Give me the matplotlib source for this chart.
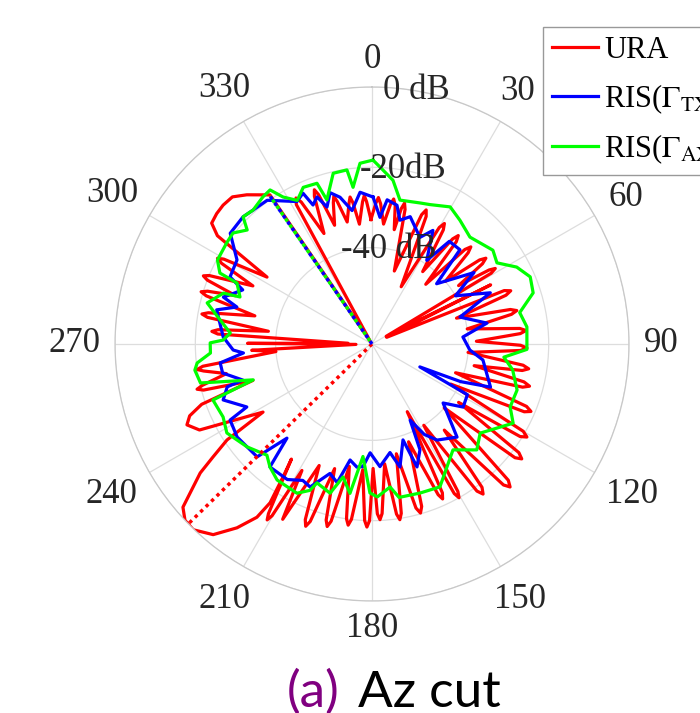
import numpy as np
import matplotlib.pyplot as plt

plt.rcParams['font.family'] = ['Liberation Serif', 'DejaVu Serif']
plt.rcParams['mathtext.fontset'] = 'stix'

# angles in degrees (clockwise from north), gains in dB
green_theta = [0.3, 2.6, 7.3, 11, 18.8, 22.6, 29.7, 35.4, 42.5, 52.2, 57, 62, 67, 72.4, 78, 83.7,
               92, 95.7, 100.4, 107.6, 114.5, 119.3, 129.5, 135.3, 142.6, 154.6, 162, 170, 172.8,
               178, 180.8, 184.6, 188.4, 192.3, 195.7, 201.6, 203, 206.7, 214.9, 219.7, 223.4,
               230.5, 238.5, 243.9, 250.6, 253.2, 257.2, 261.6, 263.8, 266.8, 270.4, 271.5, 274.4,
               279, 284, 288.9, 289.6, 294.3, 295, 298.5, 304.9, 308.6, 312.4, 314.6, 318.4, 323.4,
               326.5, 328.8, 332.5, 336.3, 341.1, 342.6, 347.2, 351.8, 353.1, 356.2, 360.3]
green_db = [-18.2, -19.9, -22.9, -27.5, -26.9, -26.4, -24.7, -26.2, -27.9, -25.9, -26.9, -23.2,
            -21.2, -21.9, -26.4, -25.2, -25.4, -31, -28.4, -26.1, -26.2, -23.7, -29.1, -26.9, -30.8,
            -24.6, -25, -25.2, -28.1, -25.9, -26.9, -35.9, -26.4, -30.1, -25.4, -26.8, -24.4, -22.4,
            -22.7, -24.2, -25.9, -23.7, -21.6, -22.7, -22, -33.1, -20.2, -19.4, -20.2, -23.7, -23.7,
            -26.9, -28.6, -25.7, -21.7, -24.9, -29.1, -27.1, -22.2, -20.2, -19.9, -19.7, -21.9,
            -18.9, -19.4, -18.4, -18, -21.2, -23.7, -21.4, -21.7, -26.4, -20.4, -20.2, -24.7,
            -18.9, -18.2]

blue_theta = [0.4, 3.6, 6, 10.2, 12.7, 16.7, 24.2, 28.2, 33.2, 37, 43, 47, 55, 60, 66.6, 73,
              79.7, 85.6, 93.5, 98.2, 110, 113, 115.6, 118, 124.7, 129.7, 137.6, 145.9, 150,
              153.4, 155.6, 159.9, 162.1, 167.2, 170.6, 176.3, 181, 184.2, 187, 190.7, 194.1, 198,
              203.4, 206.9, 212, 219.7, 222.1, 225.5, 235.4, 241.8, 243.3, 249.4, 253.5, 254.4,
              259, 262.9, 266, 267.5, 272.7, 282.4, 285.3, 287.5, 292.7, 295.3, 301.9, 308,
              314.6, 318.4, 323.9, 332.2, 335.4, 337, 339.5, 341.8, 344.5, 347.7, 351.5, 355.5,
              360.4]
blue_db = [-27.4, -32.4, -27.9, -28.9, -32.4, -30.9, -34.9, -31.9, -39.1, -32, -31.9, -42,
           -33, -40, -31.9, -41.1, -34.9, -41.3, -39.6, -36.1, -32.6, -40, -50.8, -37.1, -36.4,
           -41, -32.6, -35.1, -38, -42.8, -35.1, -31.4, -38.9, -32.6, -36.6, -33.4, -36.9, -33.4,
           -33.1, -34.6, -28.4, -30.1, -25.2, -25.9, -24.2, -24.2, -32.4, -23.9, -23.2, -23.9,
           -29.1, -24.4, -26.4, -30.6, -26.1, -25.9, -31.9, -29.4, -26.9, -24.4, -29.1, -25.2,
           -29.1, -24.9, -24.4, -19.2, -18.9, -19.4, -19.7, -23.9, -22.7, -26.4, -24.9, -28.1,
           -24.9, -26.6, -30.4, -26.1, -27.4]

red_theta = [-0.5, 1.5, 2.5, 3.5, 5.5, 7.5, 8.5, 9.5, 11, 12.2, 13, 13.8, 17, 21, 22, 23, 27,
             30, 31, 32, 35, 37.5, 38.5, 39.5, 42, 44.5, 45.5, 46.5, 49.5, 52, 53, 54, 56, 57.7,
             58.5, 59.3, 61.5, 63.5, 65.5, 68, 69, 70, 73, 76, 77, 78, 81, 84, 85, 86, 88.5,
             90.5, 91.5, 92.5, 95, 98, 99, 100, 102, 104, 105, 106, 109, 112, 113, 114, 117,
             120, 121, 122, 124, 126.5, 127.5, 128.5, 131.5, 135, 136, 137, 140, 142.5, 143.5,
             144.5, 147.5, 149.8, 150.5, 151.2, 152.5, 154.7, 155.5, 156.3, 159.5, 163, 164,
             165, 167.5, 170.2, 171, 171.8, 174, 176.6, 177.4, 178.2, 179.5, 180.8, 181.6,
             182.4, 184.2, 186.7, 187.5, 188.3, 190.5, 193, 193.8, 194.6, 196.7, 199.2, 200,
             200.8, 203.5, 207, 209, 210.2, 210.8, 211.4, 215, 213.8, 212.7, 213.6, 216.3,
             219.8, 223.9, 226.7, 229.2, 230.7, 233.1, 234.6, 236.5, 238, 243.5, 246.4, 248.5,
             250.5, 253, 254.7, 255.5, 256.3, 258.5, 260.9, 261.7, 262.5, 265.5, 267, 268.5,
             270.3, 271.8, 273.7, 274.5, 275.3, 277, 279.2, 280, 280.8, 283.5, 286.2, 287,
             287.8, 289.5, 291.2, 292, 292.8, 296, 298.2, 299, 299.8, 302.5, 305, 307, 310, 313,
             316.5, 320, 323, 325.6, 327.5, 331.5, 332.5, 333.5, 336.5, 338.7, 339.5, 340.3,
             342.5, 344.7, 345.5, 346.3, 348.5, 350.7, 351.5, 352.3, 354, 356.2, 357, 357.8,
             359.5]
red_db = [-33, -29, -27.5, -29, -34, -29, -27.5, -29, -35, -29.5, -28, -29.5, -45, -29.5, -28,
          -29.5, -48, -30.5, -29, -30.5, -42, -31, -29.5, -31, -44, -31, -29.5, -31, -40, -30,
          -28.5, -30, -38, -29.5, -28, -29.5, -60, -31, -60, -28.5, -27, -28.5, -42, -28.5, -27,
          -28.5, -40, -27, -25.5, -27, -38, -27, -25.4, -27, -40, -26, -24.5, -26, -38, -25,
          -23.4, -25, -42, -22.5, -21, -22.5, -42, -20.5, -19, -20.5, -38, -18.5, -17, -18.5,
          -40, -16, -14.5, -16, -36, -19, -17.5, -19, -40, -21.5, -20, -21.5, -45, -23, -21.6,
          -23, -38, -21.7, -20.2, -21.7, -36, -21.2, -19.7, -21.2, -34, -21.7, -20.2, -21.7,
          -33, -20, -18.4, -20, -32.6, -20, -18.5, -20, -33, -18.7, -17.2, -18.7, -31.6, -17.2,
          -15.7, -17.2, -31, -15, -28, -14.5, -13, -14.5, -29, -24.2, -17, -12.2, -7.2, -2.2,
          0.2, 0, -1.8, -5.5, -10.5, -15.4, -20.7, -32, -16, -13.7, -15.2, -19, -33, -20.5,
          -19, -20.5, -27, -21.5, -20, -21.5, -40, -34, -60, -33, -58, -25.5, -24, -25.5, -38,
          -22.5, -21, -22.5, -34, -21, -19.5, -21, -28, -20, -18.7, -20, -31, -21.5, -20,
          -21.5, -33, -17, -14, -13.5, -13.3, -13.5, -15.5, -17.5, -19, -63, -24.5, -23, -24.5,
          -34, -24.5, -23, -24.5, -33, -27.5, -26, -27.5, -33, -28.5, -27, -28.5, -34, -28.5,
          -27, -28.5, -33]

# steering markers (direction, gain)
ura_dir, ura_peak = 225.6, 0.0
ris_dir, ris_peak = 325.4, -19.2

r_min, r_max = -64, 0
theta_ticks = list(range(0, 360, 30))
r_ticks = [-40, -20, 0]
r_tick_labels = ['-40 dB', '-20dB', '0 dB']

fig = plt.figure(figsize=(7, 7.13), dpi=100)
ax = fig.add_axes([0.1643, 0.1571, 0.7343, 0.7209], projection='polar')
ax.set_theta_zero_location('N')
ax.set_theta_direction(-1)
ax.set_ylim(r_min, r_max)
ax.set_xticks(np.deg2rad(theta_ticks))
ax.set_xticklabels([])
ax.set_yticks(r_ticks)
ax.set_yticklabels([])
ax.grid(True, color='#dddddd', lw=0.9)
ax.spines['polar'].set_color('#c8c8c8')
ax.spines['polar'].set_linewidth(0.9)

l1, = ax.plot(np.deg2rad(red_theta), red_db, color='#ff0000', lw=2.3, label='URA')
l2, = ax.plot(np.deg2rad(blue_theta), blue_db, color='#0000ff', lw=2.3,
              label=r'RIS($\Gamma_{\mathrm{TX}}$)')
l3, = ax.plot(np.deg2rad(green_theta), green_db, color='#00ff00', lw=2.3,
              label=r'RIS($\Gamma_{\mathrm{AX}}$)')

ax.plot(np.deg2rad([ura_dir, ura_dir]), [r_min, ura_peak], color='#ff0000', lw=2.5,
        ls=(0, (1, 1.2)))
ax.plot(np.deg2rad([ris_dir, ris_dir]), [r_min, ris_peak], color='#0000ff', lw=2.5,
        ls=(0, (1, 1.2)))
ax.plot(np.deg2rad([ris_dir, ris_dir]), [r_min, ris_peak], color='#00ff00', lw=2.5,
        ls=(1.1, (1, 1.2)))

# angle labels just outside the rim
for t in theta_ticks:
    s = str(t)
    half = 8.5 * len(s) * abs(np.sin(np.deg2rad(t))) + 12.5 * abs(np.cos(np.deg2rad(t)))
    rpx = 257 + 15 + half
    ax.text(np.deg2rad(t), r_min + rpx / 257 * (r_max - r_min), s, ha='center', va='center',
            fontsize=25, color='#262626', clip_on=False)

for r, s in zip(r_ticks, r_tick_labels):
    ax.text(np.deg2rad(10), r, s, ha='center', va='center', fontsize=25, color='#262626')

fig.legend(handles=[l1, l2, l3], loc='upper left', bbox_to_anchor=(543 / 700, 1 - 27 / 713),
           fontsize=22, handlelength=1.5, handletextpad=0.2, borderpad=0.3, labelspacing=0.55,
           fancybox=False, edgecolor='#999999', framealpha=1, borderaxespad=0)

fig.text(287 / 700, 6 / 713, '(a)', color='#800080', fontsize=37, family='Lato',
         va='baseline')
fig.text(358 / 700, 6 / 713, 'Az cut', color='black', fontsize=37, family='Lato',
         va='baseline')

fig.savefig('out.png', dpi=100)
